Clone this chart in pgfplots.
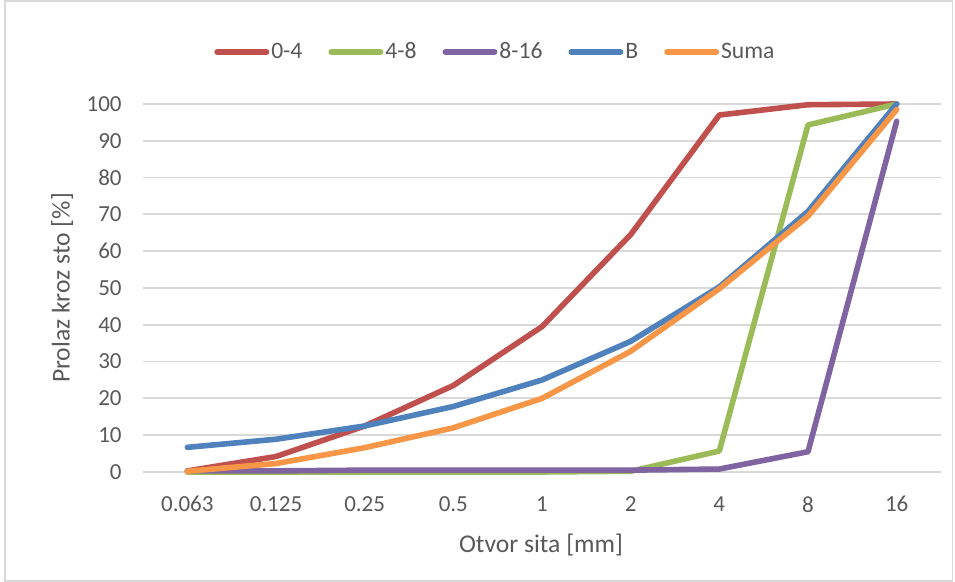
\documentclass[border=0pt]{standalone}
\usepackage{pgfplots}
\pgfplotsset{compat=1.18}
\usepackage{fontspec}
\setmainfont{Carlito}
\definecolor{c04}{HTML}{C0504D}
\definecolor{c48}{HTML}{9BBB59}
\definecolor{c816}{HTML}{8064A2}
\definecolor{cB}{HTML}{4F81BD}
\definecolor{cS}{HTML}{F79646}
\definecolor{txt}{HTML}{595959}
\definecolor{gridc}{HTML}{D9D9D9}
\begin{document}
\begin{tikzpicture}
\useasboundingbox (0,0) rectangle (477.5pt,291pt);
\draw[gridc, line width=0.8pt] (2.5pt,0.6pt) rectangle (476.3pt,290.4pt);
\begin{axis}[
  at={(71.5pt,55pt)}, anchor=south west,
  scale only axis, width=399pt, height=184pt,
  xmin=-0.5, xmax=8.5, ymin=0, ymax=100,
  xtick={0,...,8},
  xticklabels={0.063,0.125,0.25,0.5,1,2,4,8,16},
  ytick={0,10,...,100},
  axis line style={draw=none},
  major tick length=0pt,
  xmajorgrids=false, ymajorgrids=true,
  y grid style={color=gridc, line width=0.9pt},
  tick label style={font=\fontsize{11.5}{13}\selectfont, text=txt},
  /pgf/number format/assume math mode=true,
  yticklabel style={inner sep=0pt, anchor=east, xshift=-10.5pt},
  xticklabel style={inner sep=0pt, anchor=north, yshift=-12pt},
  xlabel={Otvor sita [mm]},
  ylabel={Prolaz kroz sto [\%]},
  label style={font=\fontsize{12.8}{15}\selectfont, text=txt},
  xlabel style={at={(axis description cs:0.4987,-0.198)}, anchor=center},
  ylabel style={at={(axis description cs:-0.1015,0.5)}, anchor=center},
  legend columns=5,
  legend style={at={(axis description cs:0.4417,1.1413)}, anchor=center,
    draw=none, fill=none, font=\fontsize{11.8}{14}\selectfont, text=txt,
    /tikz/every even column/.append style={column sep=12pt},
    nodes={inner sep=1pt}},
  legend image code/.code={\draw[line width=2.8pt, line cap=round] (0.1cm,0) -- (27.5pt,0);},
  every axis plot/.append style={line width=2.8pt, line join=round, line cap=round, mark=none},
  clip=false,
]
\addplot[c04] coordinates {(0,0.3) (1,4.2) (2,12.5) (3,23.5) (4,39.5) (5,64.5) (6,97) (7,99.8) (8,100)};
\addlegendentry{0-4}
\addplot[c48] coordinates {(0,0) (1,0) (2,0) (3,0) (4,0) (5,0.2) (6,5.7) (7,94.3) (8,100)};
\addlegendentry{4-8}
\addplot[c816] coordinates {(0,0.3) (1,0.3) (2,0.5) (3,0.5) (4,0.5) (5,0.5) (6,0.8) (7,5.5) (8,95.3)};
\addlegendentry{8-16}
\addplot[cB] coordinates {(0,6.7) (1,8.9) (2,12.5) (3,17.8) (4,25) (5,35.5) (6,50.3) (7,70.8) (8,100)};
\addlegendentry{B}
\addplot[cS] coordinates {(0,0.2) (1,2.3) (2,6.6) (3,12) (4,20) (5,32.8) (6,49.8) (7,69.5) (8,98.5)};
\addlegendentry{Suma}
\end{axis}
\end{tikzpicture}
\end{document}
